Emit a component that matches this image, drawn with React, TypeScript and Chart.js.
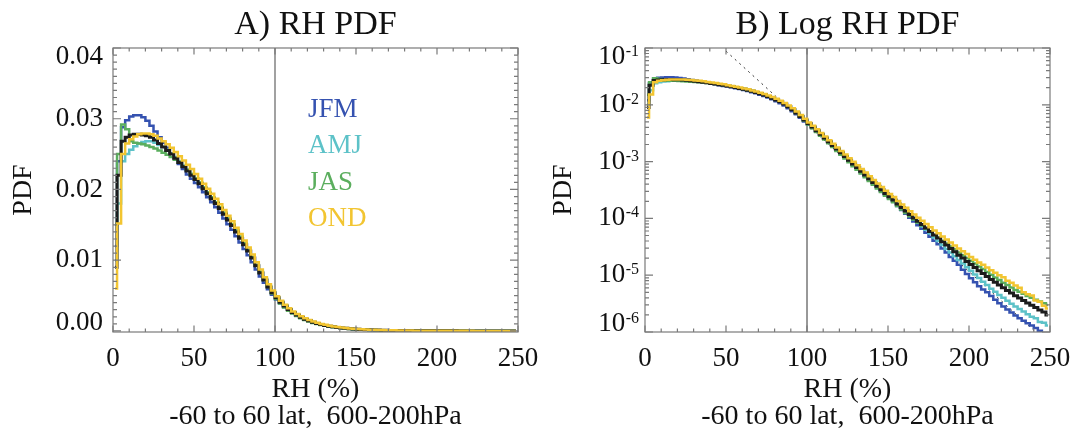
import React, { useEffect, useRef } from "react";
import { Chart, registerables } from "chart.js";
Chart.register(...registerables);

const FONT = "'Liberation Serif', 'Times New Roman', Times, serif";
Chart.defaults.font.family = FONT;
Chart.defaults.color = "#111";

// ---- categories: RH histogram bins (2.5 % wide) ----
const BIN_WIDTH = 2.5;
const rhBins = Array.from({ length: 100 }, (_, i) => BIN_WIDTH * i + BIN_WIDTH / 2);

const seasons = ["JFM", "AMJ", "JAS", "OND"];

// ---- series values (PDF per bin) ----
const pdfJFM = [
  0.0120, 0.0240, 0.0288, 0.0298, 0.0303, 0.0305, 0.0305, 0.0302, 0.0297, 0.0290,
  0.0282, 0.0274, 0.0266, 0.0259, 0.0251, 0.0244, 0.0236, 0.0229, 0.0221, 0.0215,
  0.0209, 0.0203, 0.0196, 0.0189, 0.0182, 0.0175, 0.0167, 0.0159, 0.0151, 0.0143,
  0.0134, 0.0125, 0.0116, 0.0107, 0.0097, 0.0087, 0.0077, 0.0068, 0.0059, 0.0051,
  0.00445, 0.00390, 0.00338, 0.00292, 0.00252, 0.00218, 0.00188, 0.00162, 0.00139, 0.00120,
  0.00103, 0.00088, 0.00076, 0.00065, 0.00056, 0.00048, 0.00041, 0.000355, 0.000305, 0.000262,
  0.000226, 0.000196, 0.000166, 0.000141, 0.000121, 0.000103, 8.85e-5, 7.6e-5, 6.55e-5, 5.6e-5,
  4.75e-5, 4.05e-5, 3.5e-5, 2.95e-5, 2.5e-5, 2.1e-5, 1.8e-5, 1.52e-5, 1.25e-5, 1.05e-5,
  8.8e-6, 7.5e-6, 6.4e-6, 5.6e-6, 5.0e-6, 4.3e-6, 3.7e-6, 3.2e-6, 2.8e-6, 2.5e-6,
  2.2e-6, 1.95e-6, 1.75e-6, 1.58e-6, 1.42e-6, 1.3e-6, 1.18e-6, 1.05e-6, 0.9e-6, 0.8e-6,
];
const pdfAMJ = [
  0.0100, 0.0180, 0.0240, 0.0250, 0.0256, 0.0261, 0.0265, 0.0267, 0.0268, 0.0268,
  0.0266, 0.0263, 0.0260, 0.0256, 0.0251, 0.0246, 0.0240, 0.0234, 0.0228, 0.0222,
  0.0216, 0.0210, 0.0203, 0.0196, 0.0189, 0.0182, 0.0175, 0.0167, 0.0159, 0.0151,
  0.0142, 0.0133, 0.0124, 0.0115, 0.0105, 0.0094, 0.0084, 0.0074, 0.0064, 0.0055,
  0.00475, 0.00412, 0.00355, 0.00305, 0.00262, 0.00226, 0.00194, 0.00167, 0.00144, 0.00124,
  0.00107, 0.00092, 0.00079, 0.00068, 0.000585, 0.000502, 0.000430, 0.000369, 0.000318, 0.000272,
  0.000236, 0.000205, 0.000175, 0.000150, 0.000130, 0.000112, 9.7e-5, 8.4e-5, 7.3e-5, 6.3e-5,
  5.4e-5, 4.6e-5, 4.0e-5, 3.4e-5, 2.9e-5, 2.5e-5, 2.15e-5, 1.85e-5, 1.6e-5, 1.38e-5,
  1.2e-5, 1.03e-5, 8.9e-6, 7.7e-6, 6.7e-6, 5.8e-6, 5.1e-6, 4.5e-6, 4.0e-6, 3.55e-6,
  3.15e-6, 2.8e-6, 2.55e-6, 2.3e-6, 2.05e-6, 1.85e-6, 1.75e-6, 1.5e-6, 1.45e-6, 1.3e-6,
];
const pdfJAS = [
  0.0150, 0.0250, 0.0292, 0.0285, 0.0268, 0.0266, 0.0265, 0.0264, 0.0262, 0.0260,
  0.0258, 0.0255, 0.0252, 0.0249, 0.0246, 0.0242, 0.0238, 0.0233, 0.0228, 0.0222,
  0.0216, 0.0210, 0.0203, 0.0196, 0.0189, 0.0182, 0.0175, 0.0167, 0.0159, 0.0151,
  0.0142, 0.0133, 0.0124, 0.0114, 0.0104, 0.0093, 0.0083, 0.0072, 0.0062, 0.0053,
  0.00450, 0.00388, 0.00333, 0.00286, 0.00245, 0.00210, 0.00180, 0.00154, 0.00132, 0.00113,
  0.00097, 0.000832, 0.000716, 0.000616, 0.000530, 0.000455, 0.000391, 0.000336, 0.000291, 0.000250,
  0.000219, 0.000192, 0.000165, 0.000143, 0.000125, 0.000109, 9.6e-5, 8.5e-5, 7.5e-5, 6.6e-5,
  5.8e-5, 5.1e-5, 4.6e-5, 4.05e-5, 3.6e-5, 3.2e-5, 2.85e-5, 2.5e-5, 2.25e-5, 2.0e-5,
  1.8e-5, 1.6e-5, 1.43e-5, 1.28e-5, 1.14e-5, 1.02e-5, 9.1e-6, 8.2e-6, 7.4e-6, 6.7e-6,
  6.1e-6, 5.5e-6, 5.1e-6, 4.7e-6, 4.3e-6, 4.0e-6, 3.7e-6, 3.45e-6, 3.2e-6, 3.0e-6,
];
const pdfOND = [
  0.0060, 0.0152, 0.0250, 0.0265, 0.0271, 0.0275, 0.0278, 0.0279, 0.0279, 0.0278,
  0.0276, 0.0272, 0.0268, 0.0264, 0.0259, 0.0253, 0.0247, 0.0241, 0.0235, 0.0229,
  0.0222, 0.0215, 0.0208, 0.0201, 0.0194, 0.0187, 0.0179, 0.0171, 0.0163, 0.0155,
  0.0146, 0.0137, 0.0128, 0.0118, 0.0108, 0.0097, 0.0087, 0.0076, 0.0066, 0.0057,
  0.00490, 0.00428, 0.00370, 0.00319, 0.00276, 0.00238, 0.00206, 0.00178, 0.00154, 0.00133,
  0.00115, 0.00099, 0.00086, 0.00074, 0.000640, 0.000552, 0.000476, 0.000411, 0.000357, 0.000308,
  0.000270, 0.000237, 0.000203, 0.000176, 0.000154, 0.000134, 0.000117, 0.000103, 9.1e-5, 8.0e-5,
  7.0e-5, 6.15e-5, 5.45e-5, 4.8e-5, 4.25e-5, 3.75e-5, 3.35e-5, 2.95e-5, 2.65e-5, 2.35e-5,
  2.1e-5, 1.88e-5, 1.68e-5, 1.52e-5, 1.36e-5, 1.22e-5, 1.1e-5, 1.0e-5, 9.2e-6, 8.0e-6,
  7.4e-6, 6.6e-6, 6.0e-6, 5.0e-6, 4.6e-6, 4.4e-6, 3.6e-6, 3.4e-6, 2.9e-6, 2.6e-6,
];
const pdfAll = [
  0.0090, 0.0220, 0.0268, 0.0274, 0.0277, 0.0278, 0.0278, 0.0277, 0.0276, 0.0274,
  0.0270, 0.0265, 0.0260, 0.0255, 0.0250, 0.0244, 0.0238, 0.0232, 0.0226, 0.0220,
  0.0214, 0.0208, 0.0201, 0.0194, 0.0187, 0.0180, 0.0173, 0.0165, 0.0157, 0.0149,
  0.0140, 0.0131, 0.0122, 0.0113, 0.0103, 0.0092, 0.0082, 0.0072, 0.0062, 0.0054,
  0.00468, 0.00407, 0.00351, 0.00302, 0.00260, 0.00224, 0.00193, 0.00166, 0.00143, 0.00123,
  0.00106, 0.00091, 0.000785, 0.000676, 0.000582, 0.000500, 0.000430, 0.000370, 0.000320, 0.000275,
  0.000240, 0.000210, 0.000180, 0.000155, 0.000135, 0.000117, 0.000102, 8.9e-5, 7.8e-5, 6.8e-5,
  5.9e-5, 5.1e-5, 4.5e-5, 3.9e-5, 3.4e-5, 2.95e-5, 2.6e-5, 2.25e-5, 2.0e-5, 1.74e-5,
  1.55e-5, 1.36e-5, 1.2e-5, 1.07e-5, 9.5e-6, 8.4e-6, 7.5e-6, 6.7e-6, 6.0e-6, 5.4e-6,
  4.85e-6, 4.35e-6, 3.95e-6, 3.6e-6, 3.25e-6, 2.95e-6, 2.7e-6, 2.45e-6, 2.25e-6, 2.0e-6,
];

// exponential fit (dotted, log panel)
const fitRH = [50, 250];
const fitPDF = [0.088, 5.9e-7];

const refRH = 100;

// ---- tick labels ----
const xTicks = [0, 50, 100, 150, 200, 250];
const yTicksLin = [0, 0.01, 0.02, 0.03, 0.04];
const yTicksLog = [1e-6, 1e-5, 1e-4, 1e-3, 1e-2, 1e-1];

// ---- styles ----
const COLORS: Record<string, string> = {
  JFM: "#3552b0",
  AMJ: "#5dc2c8",
  JAS: "#5bae5e",
  OND: "#f2c531",
  ALL: "#1c1c1c",
};
const FRAME_COLOR = "#7a7a7a";
const H = 434;

type PanelOpts = {
  log: boolean;
  title: string;
  legend: boolean;
  refColor: string;
  refWidth: number;
};

function makeDecor(opt: PanelOpts) {
  return {
    id: "decor",
    beforeDatasetsDraw(chart: any) {
      const { ctx, chartArea: a } = chart;
      const px = chart.scales.x.getPixelForValue(refRH);
      ctx.save();
      ctx.strokeStyle = opt.refColor;
      ctx.lineWidth = opt.refWidth;
      ctx.beginPath();
      ctx.moveTo(px, a.top);
      ctx.lineTo(px, a.bottom);
      ctx.stroke();
      ctx.restore();
    },
    afterDraw(chart: any) {
      const { ctx, chartArea: a } = chart;
      const xs = chart.scales.x;
      const ys = chart.scales.y;
      ctx.save();
      // frame
      ctx.strokeStyle = FRAME_COLOR;
      ctx.lineWidth = 1.2;
      ctx.strokeRect(a.left, a.top, a.right - a.left, a.bottom - a.top);
      // inward ticks
      ctx.beginPath();
      for (let v = 0; v <= 250; v += 10) {
        const p = xs.getPixelForValue(v);
        const len = v % 50 === 0 ? 6.5 : 3.5;
        ctx.moveTo(p, a.bottom);
        ctx.lineTo(p, a.bottom - len);
        ctx.moveTo(p, a.top);
        ctx.lineTo(p, a.top + len);
      }
      if (opt.log) {
        for (let e = -6; e <= -1; e++) {
          for (let m = 1; m <= 9; m++) {
            if (e === -1 && m > 1) break;
            const p = ys.getPixelForValue(m * Math.pow(10, e));
            const len = m === 1 ? 8 : 4;
            ctx.moveTo(a.left, p);
            ctx.lineTo(a.left + len, p);
            ctx.moveTo(a.right, p);
            ctx.lineTo(a.right - len, p);
          }
        }
      } else {
        for (let k = 0; k <= 40; k++) {
          const p = ys.getPixelForValue(k / 1000);
          const len = k % 10 === 0 ? 8 : 4;
          ctx.moveTo(a.left, p);
          ctx.lineTo(a.left + len, p);
          ctx.moveTo(a.right, p);
          ctx.lineTo(a.right - len, p);
        }
      }
      ctx.stroke();

      // y tick labels
      ctx.fillStyle = "#111";
      const list = opt.log ? yTicksLog : yTicksLin;
      list.forEach((v, i) => {
        let y = ys.getPixelForValue(v);
        if (i === 0) y -= 8;
        if (i === list.length - 1) y += 9;
        if (opt.log) {
          const ex = String(Math.round(Math.log10(v)));
          ctx.font = `16px ${FONT}`;
          const wSup = ctx.measureText(ex).width;
          const xr = a.left - 6;
          ctx.textAlign = "left";
          ctx.textBaseline = "alphabetic";
          ctx.fillText(ex, xr - wSup, y - 1);
          ctx.font = `27px ${FONT}`;
          ctx.textAlign = "right";
          ctx.textBaseline = "middle";
          ctx.fillText("10", xr - wSup - 0.5, y);
        } else {
          ctx.font = `27px ${FONT}`;
          ctx.textAlign = "right";
          ctx.textBaseline = "middle";
          ctx.fillText(v.toFixed(2), a.left - 10, y);
        }
      });

      // panel title
      ctx.font = `34px ${FONT}`;
      ctx.textAlign = "center";
      ctx.textBaseline = "middle";
      ctx.fillStyle = "#111";
      ctx.fillText(opt.title, (a.left + a.right) / 2, 25);

      // season legend
      if (opt.legend) {
        ctx.font = `27px ${FONT}`;
        ctx.textAlign = "left";
        seasons.forEach((s, i) => {
          ctx.fillStyle = COLORS[s];
          ctx.fillText(s, 308, 110 + i * 36.3);
        });
      }
      ctx.restore();
    },
  };
}

function series(values: number[]) {
  return rhBins.map((x, i) => ({ x, y: values[i] }));
}

function buildConfig(opt: PanelOpts, plotLeft: number, padRight: number): any {
  const seasonal: [string, number[], number][] = [
    ["OND", pdfOND, 0],
    ["ALL", pdfAll, 1],
    ["JAS", pdfJAS, 2],
    ["AMJ", pdfAMJ, 3],
    ["JFM", pdfJFM, 4],
  ];
  const datasets: any[] = seasonal.map(([name, vals, order]) => ({
    label: name,
    data: series(vals),
    borderColor: COLORS[name],
    borderWidth: name === "ALL" ? 3 : 2.5,
    pointRadius: 0,
    stepped: "middle",
    fill: false,
    order,
  }));
  if (opt.log) {
    datasets.push({
      label: "fit",
      data: fitRH.map((x, i) => ({ x, y: fitPDF[i] })),
      borderColor: "#333",
      borderWidth: 1,
      borderDash: [2, 4],
      pointRadius: 0,
      fill: false,
      order: 5,
    });
  }
  const yScale: any = opt.log
    ? { type: "logarithmic", min: 1e-6, max: 1e-1 }
    : { type: "linear", min: -0.00015, max: 0.04 };
  return {
    type: "line",
    data: { datasets },
    plugins: [makeDecor(opt)],
    options: {
      animation: false,
      responsive: false,
      events: [],
      layout: { padding: { top: 48, right: padRight, left: 0, bottom: 0 } },
      plugins: {
        legend: { display: false },
        tooltip: { enabled: false },
        title: { display: false },
      },
      scales: {
        x: {
          type: "linear",
          min: 0,
          max: 250,
          grid: { display: false, drawTicks: false },
          border: { display: false },
          afterBuildTicks: (s: any) => {
            s.ticks = xTicks.map((value) => ({ value }));
          },
          afterFit: (s: any) => {
            s.height = H - 332;
            s.paddingLeft = 0;
            s.paddingRight = 0;
          },
          ticks: {
            padding: 11,
            maxRotation: 0,
            autoSkip: false,
            font: { size: 27, family: FONT },
            color: "#111",
            callback: (v: any) => String(v),
          },
          title: {
            display: true,
            text: ["RH (%)", "-60 to 60 lat,  600-200hPa"],
            font: { size: 28, family: FONT, lineHeight: 0.97 },
            color: "#111",
            padding: { top: 0, bottom: 4 },
          },
        },
        y: {
          ...yScale,
          grid: { display: false, drawTicks: false },
          border: { display: false },
          ticks: { display: false },
          afterBuildTicks: (s: any) => {
            s.ticks = (opt.log ? yTicksLog : yTicksLin).map((value) => ({ value }));
          },
          afterFit: (s: any) => {
            s.width = plotLeft;
            s.paddingTop = 0;
            s.paddingBottom = 0;
          },
          title: {
            display: true,
            text: "PDF",
            font: { size: 28, family: FONT },
            color: "#111",
            padding: { top: 7, bottom: 0 },
          },
        },
      },
    },
  };
}

function Panel(props: { opt: PanelOpts; left: number; width: number; plotLeft: number; padRight: number }) {
  const ref = useRef<HTMLCanvasElement>(null);
  useEffect(() => {
    const chart = new Chart(ref.current as HTMLCanvasElement, buildConfig(props.opt, props.plotLeft, props.padRight));
    return () => chart.destroy();
  }, []);
  return (
    <canvas
      ref={ref}
      width={props.width}
      height={H}
      style={{ position: "absolute", left: props.left, top: 0, width: props.width, height: H }}
    />
  );
}

export default function App() {
  return (
    <div style={{ position: "absolute", left: 0, top: 0, width: 1073, height: H, background: "#fff" }}>
      <Panel
        opt={{ log: false, title: "A) RH PDF", legend: true, refColor: "#8a8a8a", refWidth: 1.6 }}
        left={0}
        width={540}
        plotLeft={113}
        padRight={22}
      />
      <Panel
        opt={{ log: true, title: "B) Log RH PDF", legend: false, refColor: "#333", refWidth: 1 }}
        left={540}
        width={533}
        plotLeft={105}
        padRight={23}
      />
    </div>
  );
}
